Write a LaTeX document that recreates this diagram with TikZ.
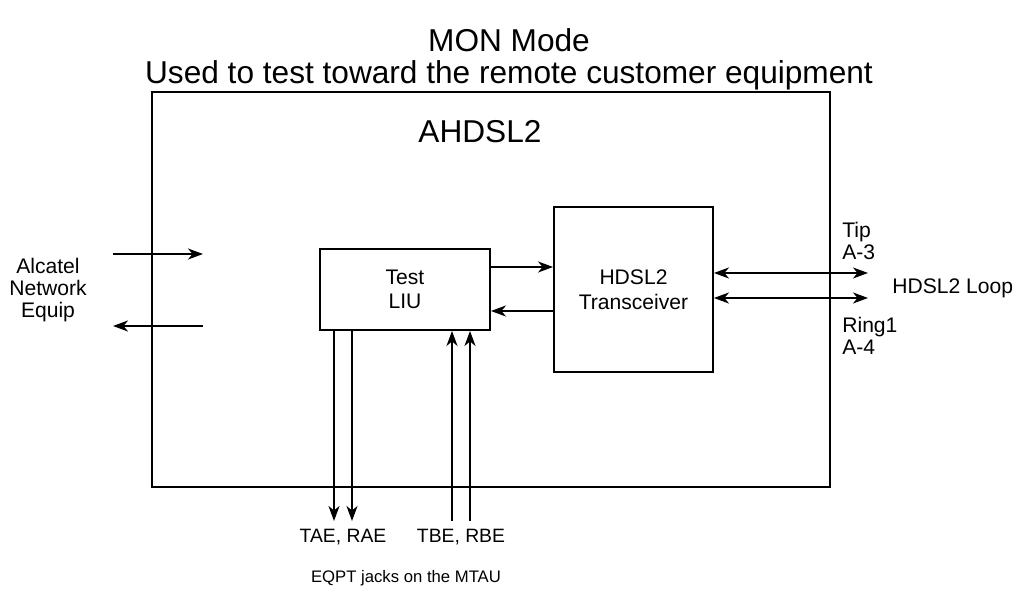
\documentclass[tikz,border=0pt]{standalone}
\usepackage{fontspec}
\setmainfont{Liberation Sans}
\usetikzlibrary{positioning, arrows.meta}

\begin{document}
\begin{tikzpicture}[
        x=0.02cm, y=-0.02cm,
        block/.style={
            rectangle,
            draw,
            line width=1.1pt,
            align=center,
            inner sep=0pt,
            font=\fontsize{12}{14}\selectfont
        },
        label/.style={
            align=center,
            inner sep=0pt,
            font=\fontsize{12}{12.5}\selectfont
        },
        arrow/.style={
            -{Stealth[length=3mm, width=2.2mm, inset=0.9mm]},
            line width=1.1pt
        },
        dblarrow/.style={
            {Stealth[length=3mm, width=2.2mm, inset=0.9mm]}-{Stealth[length=3mm, width=2.2mm, inset=0.9mm]},
            line width=1.1pt
        }
    ]

        \useasboundingbox (0,0) rectangle (1018,590);

        % titles
        \node[font=\fontsize{18}{20}\selectfont] (mode) at (509,40) {MON Mode};
        \node[font=\fontsize{18}{20}\selectfont] (purpose) at (509,75) {Used to test toward the remote customer equipment};

        % boxes
        \node[block, minimum width=13.56cm, minimum height=7.9cm] (ahdsl) at (491,289.5) {};
        \node[font=\fontsize{18}{20}\selectfont] (ahdsltitle) at (480,132) {AHDSL2};
        \node[block, minimum width=3.4cm, minimum height=1.62cm] (liu) at (405,289.5) {Test\\LIU};
        \node[block, minimum width=3.18cm, minimum height=3.3cm] (trx) at (633.5,289.5) {HDSL2\\Transceiver};

        % outside labels
        \node[label] (network) at (48,290) {Alcatel\\Network\\Equip};
        \node[label, align=left, anchor=west] (tip) at (842,241) {Tip\\A-3};
        \node[label, align=left, anchor=west] (ring) at (842,336) {Ring1\\A-4};
        \node[label, anchor=west] (loop) at (892,288) {HDSL2 Loop};
        \node[label, font=\fontsize{11}{12}\selectfont] (jacksa) at (343,537) {TAE, RAE};
        \node[label, font=\fontsize{11}{12}\selectfont] (jacksb) at (461,537) {TBE, RBE};
        \node[label, font=\fontsize{9.5}{12}\selectfont] (eqpt) at (406,578) {EQPT jacks on the MTAU};

        % free ends
        \coordinate (netin) at (113,254);
        \coordinate (netinend) at (203,254);
        \coordinate (netout) at (113,326);
        \coordinate (netoutstart) at (203,326);
        \coordinate (tipend) at (868,273);
        \coordinate (ringend) at (868,298);
        \coordinate (tae) at (334,521);
        \coordinate (rae) at (352,521);
        \coordinate (tbe) at (452,521);
        \coordinate (rbe) at (470,521);

        \draw[arrow] (netin) -- (netinend);
        \draw[arrow] (netoutstart) -- (netout);
        \draw[arrow] ([yshift=0.45cm]liu.east) -- ([yshift=0.45cm]liu.east -| trx.west);
        \draw[arrow] ([yshift=-0.43cm]trx.west) -- ([yshift=-0.43cm]trx.west -| liu.east);
        \draw[dblarrow] (trx.east |- tipend) -- (tipend);
        \draw[dblarrow] (trx.east |- ringend) -- (ringend);
        \draw[arrow] (liu.south -| tae) -- (tae);
        \draw[arrow] (liu.south -| rae) -- (rae);
        \draw[arrow] (tbe) -- (liu.south -| tbe);
        \draw[arrow] (rbe) -- (liu.south -| rbe);

    \end{tikzpicture}
\end{document}
